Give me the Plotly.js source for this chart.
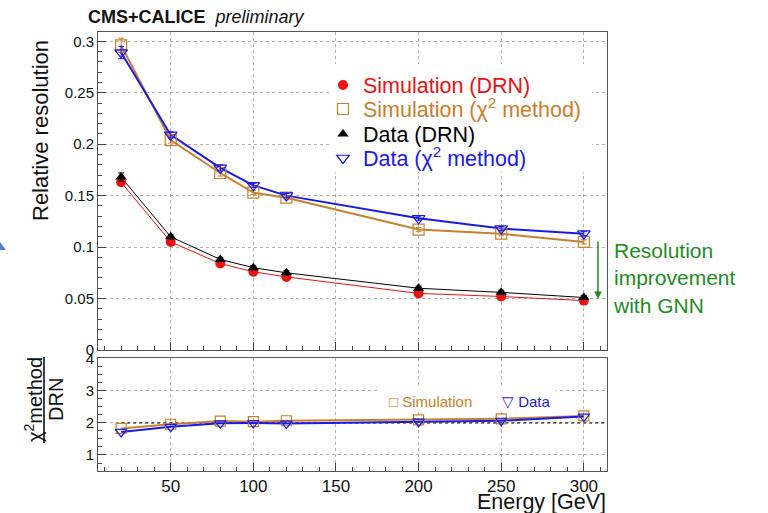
<!DOCTYPE html>
<html>
<head>
<meta charset="utf-8">
<script src="https://cdn.plot.ly/plotly-3.0.1.min.js"></script>
<style>html,body{margin:0;padding:0;background:#fff;}#chart{width:768px;height:513px;}</style>
</head>
<body>
<div id="chart"></div>
<script>
// ---- data ----
const energies = [20, 50, 80, 100, 120, 200, 250, 300];
const simDRN   = [0.163, 0.105, 0.084, 0.076, 0.071, 0.055, 0.052, 0.048];
const dataDRN  = [0.168, 0.110, 0.088, 0.080, 0.075, 0.060, 0.056, 0.051];
const simChi2  = [0.296, 0.204, 0.172, 0.153, 0.148, 0.117, 0.113, 0.105];
const dataChi2 = [0.289, 0.209, 0.177, 0.160, 0.150, 0.128, 0.118, 0.113];
const simDRNErr   = [0.003, 0.002, 0.002, 0.002, 0.002, 0.002, 0.002, 0.002];
const dataDRNErr  = [0.004, 0.002, 0.002, 0.002, 0.002, 0.002, 0.002, 0.002];
const simChi2Err  = [0.007, 0.003, 0.003, 0.002, 0.002, 0.002, 0.002, 0.002];
const dataChi2Err = [0.006, 0.003, 0.003, 0.002, 0.002, 0.002, 0.002, 0.002];
const simRatio  = [1.83, 1.96, 2.06, 2.04, 2.07, 2.10, 2.13, 2.22];
const dataRatio = [1.72, 1.88, 1.99, 2.00, 1.98, 2.04, 2.07, 2.20];
const xTicks = [50, 100, 150, 200, 250, 300];
const ratioRef = 2;

const RED = '#ee1111', ORANGE = '#c8802c', BLUE = '#1a1ae8', BLACK = '#000000', GREEN = '#1f8c1f';
const FONT = 'Liberation Sans, Arial, Helvetica, sans-serif';

const XR = [6, 314], YR = [0, 0.309], Y2R = [0.5, 4.03];
const W = 768, H = 513, L = 98, R = 161, T = 32, B = 42;
const pw = W - L - R, ph = H - T - B;
const px = v => (v - L) / pw;          // pixel x -> paper
const py = v => (H - B - v) / ph;      // pixel y -> paper
const dx = v => XR[0] + (v - L) / pw * (XR[1] - XR[0]);          // pixel x -> x data
const dy = v => YR[0] + (350 - v) / 318 * (YR[1] - YR[0]);       // pixel y -> top-panel y
const dy2 = v => Y2R[0] + (471 - v) / 113 * (Y2R[1] - Y2R[0]);  // pixel y -> ratio-panel y

function errs(a, c) { return {type: 'data', array: a, visible: true, color: c, thickness: 1, width: 3}; }

function lineTrace(y, color, width, xa, ya) {
  return {x: energies, y: y, mode: 'lines', showlegend: false, line: {color: color, width: width},
          hoverinfo: 'skip', xaxis: xa, yaxis: ya};
}
function markTrace(y, err, name, legend, marker, color, xa, ya) {
  const t = {x: energies, y: y, mode: 'markers', name: name, marker: marker, xaxis: xa, yaxis: ya};
  if (legend) { t.legend = legend; } else { t.showlegend = false; }
  if (err) t.error_y = errs(err, color);
  return t;
}

const mSimChi2 = {symbol: 'square-open', size: 11, color: ORANGE, line: {width: 1.2}};
const mDataChi2 = {symbol: 'triangle-down-open', size: 11, color: BLUE, line: {width: 1.2}};
const mSimDRN = {symbol: 'circle', size: 10, color: RED};
const mDataDRN = {symbol: 'triangle-up', size: 10, color: BLACK};

const traces = [
  lineTrace(simChi2, ORANGE, 2, 'x', 'y'),
  lineTrace(dataChi2, BLUE, 2, 'x', 'y'),
  lineTrace(simDRN, RED, 1, 'x', 'y'),
  lineTrace(dataDRN, BLACK, 1, 'x', 'y'),
  markTrace(simChi2, simChi2Err, 'Simulation (χ<sup>2</sup> method)', 'legend2', mSimChi2, ORANGE, 'x', 'y'),
  markTrace(dataChi2, dataChi2Err, 'Data (χ<sup>2</sup> method)', 'legend4', mDataChi2, BLUE, 'x', 'y'),
  markTrace(simDRN, simDRNErr, 'Simulation (DRN)', 'legend', mSimDRN, RED, 'x', 'y'),
  markTrace(dataDRN, dataDRNErr, 'Data (DRN)', 'legend3', mDataDRN, BLACK, 'x', 'y'),
  lineTrace(simRatio, ORANGE, 2, 'x2', 'y2'),
  lineTrace(dataRatio, BLUE, 2, 'x2', 'y2'),
  markTrace(simRatio, null, '', null, Object.assign({}, mSimChi2, {size: 10}), ORANGE, 'x2', 'y2'),
  markTrace(dataRatio, null, '', null, Object.assign({}, mDataChi2, {size: 10}), BLUE, 'x2', 'y2')
];

const axCommon = {
  showline: true, mirror: true, linecolor: '#555', linewidth: 1,
  ticks: 'inside', ticklen: 8, tickcolor: '#444', tickwidth: 1,
  showgrid: true, gridcolor: '#b0b0b0', griddash: 'dot', gridwidth: 1,
  zeroline: false, tickfont: {family: FONT, size: 15, color: '#111'}
};

function legendAt(yPix, color) {
  return {x: 0.442, xanchor: 'left', y: py(yPix), yanchor: 'middle', bgcolor: 'rgba(0,0,0,0)',
          font: {family: FONT, size: 21.5, color: color}, borderwidth: 0};
}

const layout = {
  width: W, height: H,
  margin: {l: L, r: R, t: T, b: B, pad: 0},
  paper_bgcolor: '#fff', plot_bgcolor: '#fff',
  font: {family: FONT},
  showlegend: true,
  legend:  legendAt(85, RED),
  legend2: legendAt(109, ORANGE),
  legend3: legendAt(134, BLACK),
  legend4: legendAt(158, BLUE),
  xaxis: Object.assign({}, axCommon, {
    domain: [0, 1], anchor: 'y', range: XR, tick0: 0, dtick: 50, showticklabels: false,
    minor: {ticks: 'inside', ticklen: 4, dtick: 10, tick0: 0, tickcolor: '#444', showgrid: false}
  }),
  yaxis: Object.assign({}, axCommon, {
    domain: [py(350), 1], anchor: 'x', range: YR, tick0: 0, dtick: 0.05,
    minor: {ticks: 'inside', ticklen: 4, dtick: 0.01, tick0: 0, tickcolor: '#444', showgrid: false}
  }),
  xaxis2: Object.assign({}, axCommon, {
    domain: [0, 1], anchor: 'y2', range: XR, tickmode: 'array', tickvals: xTicks,
    tickfont: {family: FONT, size: 17, color: '#111'},
    minor: {ticks: 'inside', ticklen: 4, dtick: 10, tick0: 0, tickcolor: '#444', showgrid: false}
  }),
  yaxis2: Object.assign({}, axCommon, {
    domain: [0, py(358)], anchor: 'x2', range: Y2R, tick0: 0, dtick: 1,
    minor: {ticks: 'inside', ticklen: 4, dtick: 0.25, tick0: 0, tickcolor: '#444', showgrid: false}
  }),
  shapes: [
    // white backdrop behind main legend (covers grid)
    {type: 'rect', xref: 'x', yref: 'y', x0: dx(330), x1: dx(592), y0: dy(172), y1: dy(64),
     fillcolor: '#fff', line: {width: 0}, layer: 'between'},
    // white backdrop behind lower legend
    {type: 'rect', xref: 'x2', yref: 'y2', x0: dx(378), x1: dx(556), y0: dy2(412), y1: dy2(388),
     fillcolor: '#fff', line: {width: 0}, layer: 'between'},
    // reference line in ratio panel
    {type: 'line', xref: 'x2', yref: 'y2', x0: energies[0], x1: XR[1], y0: ratioRef, y1: ratioRef,
     line: {color: '#000', width: 1.2, dash: 'dot'}, layer: 'between'},
    // fraction bar of the ratio-panel y title
    {type: 'line', xref: 'paper', yref: 'paper', x0: px(44), x1: px(44), y0: py(357), y1: py(443),
     line: {color: '#000', width: 1.5}},
    // small blue decoration at the far left edge
    {type: 'path', xref: 'paper', yref: 'paper',
     path: `M ${px(0)},${py(242)} L ${px(6)},${py(250)} L ${px(0)},${py(250)} Z`,
     fillcolor: '#4a86c8', line: {width: 0}}
  ],
  annotations: [
    {xref: 'paper', yref: 'paper', x: px(86), y: py(17), xanchor: 'left', yanchor: 'middle', showarrow: false,
     text: '<b>CMS+CALICE</b>  <i>preliminary</i>', font: {family: FONT, size: 18, color: '#111'}},
    {xref: 'paper', yref: 'paper', x: px(40), y: py(131), xanchor: 'center', yanchor: 'middle', showarrow: false,
     textangle: -90, text: 'Relative resolution', font: {family: FONT, size: 22, color: '#111'}},
    {xref: 'paper', yref: 'paper', x: px(33), y: py(400), xanchor: 'center', yanchor: 'middle', showarrow: false,
     textangle: -90, text: 'χ<sup>2</sup>method', font: {family: FONT, size: 20, color: '#111'}},
    {xref: 'paper', yref: 'paper', x: px(56), y: py(400), xanchor: 'center', yanchor: 'middle', showarrow: false,
     textangle: -90, text: 'DRN', font: {family: FONT, size: 20, color: '#111'}},
    {xref: 'paper', yref: 'paper', x: 1, y: py(502), xanchor: 'right', yanchor: 'middle', showarrow: false,
     borderpad: 0, text: 'Energy [GeV]', font: {family: FONT, size: 21.5, color: '#111'}},
    {xref: 'paper', yref: 'paper', x: px(387), y: py(401), xanchor: 'left', yanchor: 'middle', showarrow: false,
     text: '□ Simulation', font: {family: FONT, size: 15, color: ORANGE}},
    {xref: 'paper', yref: 'paper', x: px(500), y: py(401), xanchor: 'left', yanchor: 'middle', showarrow: false,
     text: '▽ Data', font: {family: FONT, size: 15, color: BLUE}},
    {xref: 'paper', yref: 'paper', x: px(611), y: py(278), xanchor: 'left', yanchor: 'middle', showarrow: false,
     align: 'left', text: 'Resolution<br>improvement<br>with GNN', font: {family: FONT, size: 21, color: GREEN}},
    {xref: 'paper', yref: 'paper', x: px(598), y: py(299), showarrow: true, text: '',
     axref: 'pixel', ayref: 'pixel', ax: 0, ay: -59, arrowhead: 2, arrowsize: 1, arrowwidth: 1.5,
     arrowcolor: GREEN, standoff: 0}
  ]
};

Plotly.newPlot('chart', traces, layout, {staticPlot: true, displayModeBar: false});
</script>
</body>
</html>
